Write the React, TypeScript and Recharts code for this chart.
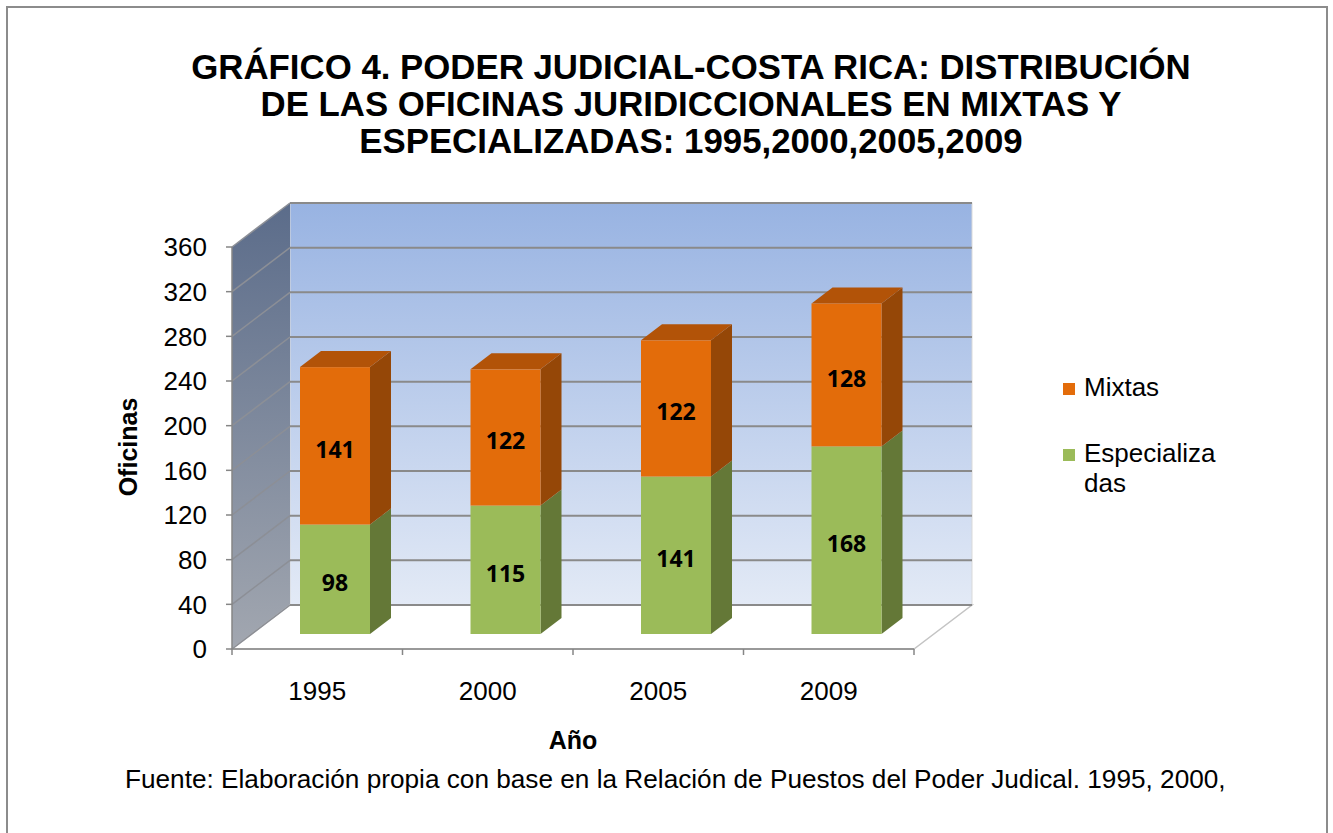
import { Bar, BarChart, CartesianGrid, LabelList, XAxis, YAxis } from "recharts";

const years = ["1995", "2000", "2005", "2009"];
const especializadas = [98, 115, 141, 168];
const mixtas = [141, 122, 122, 128];
const yTicks = [0, 40, 80, 120, 160, 200, 240, 280, 320, 360];

const rows = years.map((year, i) => ({
  year,
  especializadas: especializadas[i],
  mixtas: mixtas[i],
}));

// plot area (front plane of the 3D box), page pixels
const LEFT = 232;
const RIGHT = 914;
const TOP = 247;
const BOTTOM = 649;
const W = 1333;
const H = 833;
// depth of the box (back wall offset)
const DEPTH_X = 58;
const DEPTH_Y = -44;
// bars sit a bit into the box, and have their own depth
const BAR_DX = 18;
const BAR_DY = -15;
const SIDE_X = 21;
const SIDE_Y = -16;

const ORANGE = { front: "#E36C0A", side: "#954707", top: "#B25308" };
const GREEN = { front: "#9BBB59", side: "#647837", top: "#7E9A45" };

const FONT = "'Liberation Sans', Arial, sans-serif";

function Box3D(props: any) {
  const { x, y, width, height, colors, showTop } = props;
  if (!height || height <= 0) return null;
  const fx = x + BAR_DX;
  const fy = y + BAR_DY;
  const side = [
    [fx + width, fy],
    [fx + width + SIDE_X, fy + SIDE_Y],
    [fx + width + SIDE_X, fy + height + SIDE_Y],
    [fx + width, fy + height],
  ];
  const top = [
    [fx, fy],
    [fx + width, fy],
    [fx + width + SIDE_X, fy + SIDE_Y],
    [fx + SIDE_X, fy + SIDE_Y],
  ];
  return (
    <g>
      <polygon points={side.map((p) => p.join(",")).join(" ")} fill={colors.side} />
      {showTop && <polygon points={top.map((p) => p.join(",")).join(" ")} fill={colors.top} />}
      <rect x={fx} y={fy} width={width} height={height} fill={colors.front} />
    </g>
  );
}

function ValueLabel(props: any) {
  const { x, y, width, height, value } = props;
  return (
    <text
      x={x + BAR_DX + width / 2}
      y={y + BAR_DY + height / 2 + 3}
      textAnchor="middle"
      dominantBaseline="central"
      fontFamily="'Open Sans', sans-serif"
      fontWeight={700}
      fontSize={23}
      fill="#000"
    >
      {value}
    </text>
  );
}

// gridline on the back wall plus its diagonal on the side wall
function WallGridLine(props: any) {
  const { x1, y1, x2 } = props;
  return (
    <g>
      <line x1={x1} y1={y1} x2={x1 + DEPTH_X} y2={y1 + DEPTH_Y} stroke="#8C8F96" strokeWidth={1.5} />
      <line x1={x1 + DEPTH_X} y1={y1 + DEPTH_Y} x2={x2 + DEPTH_X} y2={y1 + DEPTH_Y} stroke="#8A8A8A" strokeWidth={2} />
    </g>
  );
}

function Walls() {
  const bx = LEFT + DEPTH_X;
  const by = TOP + DEPTH_Y;
  const xTicks = [0, 1, 2, 3, 4].map((i) => LEFT + ((RIGHT - LEFT) * i) / 4);
  return (
    <svg width={W} height={H} style={{ position: "absolute", left: 0, top: 0 }}>
      <defs>
        <linearGradient id="back" x1="0" y1="0" x2="0" y2="1">
          <stop offset="0%" stopColor="#98B3E2" />
          <stop offset="100%" stopColor="#E3EAF6" />
        </linearGradient>
        <linearGradient id="sideWall" x1="0" y1="0" x2="0" y2="1">
          <stop offset="0%" stopColor="#5B6C8A" />
          <stop offset="100%" stopColor="#A2A7B0" />
        </linearGradient>
      </defs>
      <rect x={bx} y={by} width={RIGHT - LEFT} height={BOTTOM - TOP} fill="url(#back)" stroke="#D9D9D9" />
      <polygon
        points={`${LEFT},${TOP} ${bx},${by} ${bx},${BOTTOM + DEPTH_Y} ${LEFT},${BOTTOM}`}
        fill="url(#sideWall)"
      />
      <polygon
        points={`${LEFT},${BOTTOM} ${bx},${BOTTOM + DEPTH_Y} ${RIGHT + DEPTH_X},${BOTTOM + DEPTH_Y} ${RIGHT},${BOTTOM}`}
        fill="#FFFFFF"
        stroke="#C4C4C4"
        strokeWidth={1.5}
      />
      {xTicks.map((tx) => (
        <line key={tx} x1={tx} y1={BOTTOM} x2={tx} y2={BOTTOM + 6} stroke="#868686" strokeWidth={1.5} />
      ))}
    </svg>
  );
}

export default function App() {
  return (
    <div style={{ position: "absolute", left: 0, top: 0, width: W, height: H, overflow: "hidden", background: "#fff" }}>
      <div
        style={{
          position: "absolute",
          left: 6,
          top: 6,
          width: 1318,
          height: 840,
          border: "2px solid #8C8C8C",
        }}
      />
      <div
        style={{
          position: "absolute",
          left: 141,
          top: 48,
          width: 1100,
          textAlign: "center",
          fontFamily: FONT,
          fontWeight: 700,
          fontSize: 34.8,
          lineHeight: "37px",
          color: "#000",
        }}
      >
        GRÁFICO 4. PODER JUDICIAL-COSTA RICA: DISTRIBUCIÓN
        <br />
        DE LAS OFICINAS JURIDICCIONALES EN MIXTAS Y
        <br />
        ESPECIALIZADAS: 1995,2000,2005,2009
      </div>
      <Walls />
      <div style={{ position: "absolute", left: 0, top: 0 }}>
        <BarChart
          width={W}
          height={H}
          data={rows}
          margin={{ left: LEFT - 60, right: W - RIGHT, top: TOP, bottom: H - BOTTOM - 30 }}
          barSize={70}
        >
          <CartesianGrid vertical={false} horizontal={(p: any) => <WallGridLine {...p} />} />
          <XAxis
            dataKey="year"
            height={30}
            tickLine={false}
            tickSize={6}
            tickMargin={27}
            axisLine={{ stroke: "#868686", strokeWidth: 1.5 }}
            tick={{ fontFamily: FONT, fontSize: 26, fill: "#000" }}
          />
          <YAxis
            width={60}
            domain={[0, 360]}
            ticks={yTicks}
            interval={0}
            tickSize={6}
            tickMargin={19}
            axisLine={{ stroke: "#868686", strokeWidth: 1.5 }}
            tickLine={{ stroke: "#868686", strokeWidth: 1.5 }}
            tick={{ fontFamily: FONT, fontSize: 26, fill: "#000" }}
          />
          <Bar
            dataKey="especializadas"
            stackId="a"
            isAnimationActive={false}
            shape={(p: any) => <Box3D {...p} colors={GREEN} showTop={false} />}
          >
            <LabelList dataKey="especializadas" content={ValueLabel} />
          </Bar>
          <Bar
            dataKey="mixtas"
            stackId="a"
            isAnimationActive={false}
            shape={(p: any) => <Box3D {...p} colors={ORANGE} showTop={true} />}
          >
            <LabelList dataKey="mixtas" content={ValueLabel} />
          </Bar>
        </BarChart>
      </div>
      <div
        style={{
          position: "absolute",
          left: 128,
          top: 447,
          transform: "translate(-50%, -50%) rotate(-90deg)",
          fontFamily: FONT,
          fontWeight: 700,
          fontSize: 25,
          whiteSpace: "nowrap",
        }}
      >
        Oficinas
      </div>
      <div
        style={{
          position: "absolute",
          left: 573,
          top: 740,
          transform: "translate(-50%, -50%)",
          fontFamily: FONT,
          fontWeight: 700,
          fontSize: 25,
        }}
      >
        Año
      </div>
      <div style={{ position: "absolute", left: 1063, top: 372, fontFamily: FONT, fontSize: 26, lineHeight: "30px" }}>
        <div style={{ display: "flex", alignItems: "flex-start" }}>
          <span style={{ width: 12, height: 12, background: ORANGE.front, marginTop: 11, marginRight: 9 }} />
          <span>Mixtas</span>
        </div>
        <div style={{ display: "flex", alignItems: "flex-start", marginTop: 36 }}>
          <span style={{ width: 12, height: 12, background: GREEN.front, marginTop: 11, marginRight: 9 }} />
          <span>
            Especializa
            <br />
            das
          </span>
        </div>
      </div>
      <div
        style={{
          position: "absolute",
          left: 125,
          top: 764,
          fontFamily: FONT,
          fontSize: 26.2,
          whiteSpace: "nowrap",
        }}
      >
        Fuente: Elaboración propia con base en la Relación de Puestos del Poder Judical. 1995, 2000,
      </div>
    </div>
  );
}
